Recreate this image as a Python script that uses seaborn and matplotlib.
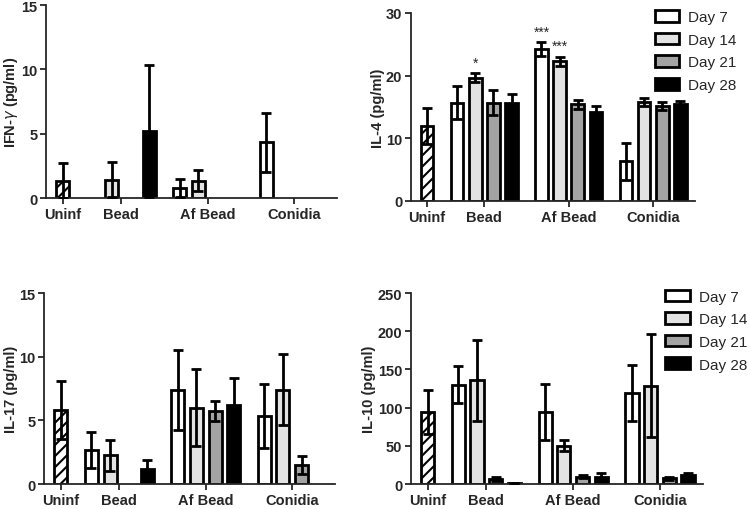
import numpy as np
import pandas as pd
import seaborn as sns
import matplotlib.pyplot as plt
from matplotlib.patches import Patch

nan = np.nan

groups = ['Bead', 'Af Bead', 'Conidia']
days = ['Day 7', 'Day 14', 'Day 21', 'Day 28']
day_colors = ['white', '#e3e3e3', '#a3a3a3', 'black']

# rows = days (7, 14, 21, 28), cols = groups (Bead, Af Bead, Conidia)
ifn_uninf = [1.35, 1.35]  # mean, error
ifn_mean = [[nan, 0.77, 4.33], [1.42, 1.34, nan], [nan, nan, nan], [5.2, nan, nan]]
ifn_err = [[nan, 0.72, 2.3], [1.36, 0.82, nan], [nan, nan, nan], [5.1, nan, nan]]

il4_uninf = [12.0, 2.9]
il4_mean = [[15.7, 24.2, 6.3], [19.7, 22.3, 15.8], [15.7, 15.4, 15.2], [15.7, 14.2, 15.4]]
il4_err = [[2.6, 1.1, 3.0], [0.7, 0.75, 0.7], [2.0, 0.75, 0.65], [1.3, 1.0, 0.6]]
il4_stars = [('Bead', 'Day 14', '*'), ('Af Bead', 'Day 7', '***'), ('Af Bead', 'Day 14', '***')]

il17_uninf = [5.8, 2.3]
il17_mean = [[2.7, 7.38, 5.33], [2.24, 6.0, 7.41], [nan, 5.74, 1.49], [1.16, 6.17, nan]]
il17_err = [[1.42, 3.17, 2.52], [1.18, 3.03, 2.8], [nan, 0.77, 0.7], [0.7, 2.13, nan]]

il10_uninf = [94.5, 28.8]
il10_mean = [[130.2, 94.5, 119.4], [135.7, 50.3, 128.9], [6.4, 9.5, 7.3], [1.3, 9.5, 11.6]]
il10_err = [[24.5, 37.0, 36.5], [53.0, 7.7, 68.0], [3.0, 2.0, 1.5], [0.5, 4.3, 3.4]]

gap = 1.65


def bar_pos(gi, di):
    return gap + gi * (3 + gap) + di


def build(uninf, mean, err):
    rows = [dict(pos=0.0, value=uninf[0], err=uninf[1], day='Uninf')]
    for di, d in enumerate(days):
        for gi, g in enumerate(groups):
            rows.append(dict(pos=bar_pos(gi, di), value=mean[di][gi],
                             err=err[di][gi], day=d))
    return pd.DataFrame(rows).dropna()


sns.set_style('ticks')
plt.rcParams['font.family'] = ['Liberation Sans', 'DejaVu Sans']
plt.rcParams['hatch.linewidth'] = 1.5

fig = plt.figure(figsize=(7.5, 5.1), dpi=100)

panels = [
    ('IFN-$\\gamma$ (pg/ml)', [0, 5, 10, 15], ifn_uninf, ifn_mean, ifn_err, [],
     [0.0613, 0.6098, 0.388, 0.3784]),
    ('IL-4 (pg/ml)', [0, 10, 20, 30], il4_uninf, il4_mean, il4_err, il4_stars,
     [0.5476, 0.604, 0.379, 0.3686]),
    ('IL-17 (pg/ml)', [0, 5, 10, 15], il17_uninf, il17_mean, il17_err, [],
     [0.0587, 0.049, 0.388, 0.3745]),
    ('IL-10 (pg/ml)', [0, 50, 100, 150, 200, 250], il10_uninf, il10_mean, il10_err, [],
     [0.5476, 0.049, 0.3897, 0.3745]),
]

palette = dict(zip(['Uninf'] + days, ['white'] + day_colors))

for ylabel, yticks, uninf, mean, err, stars, rect in panels:
    ax = fig.add_axes(rect)
    df = build(uninf, mean, err)
    sns.barplot(data=df, x='pos', y='value', hue='day', hue_order=['Uninf'] + days,
                palette=palette, native_scale=True, dodge=False, width=0.7,
                edgecolor='black', linewidth=2, errorbar=None, legend=False, ax=ax)
    for p in ax.patches:
        if abs(p.get_x() + p.get_width() / 2) < 1e-6:
            p.set_hatch('///')
    ax.errorbar(df['pos'], df['value'], yerr=df['err'], fmt='none', ecolor='black',
                elinewidth=2, capsize=3.5, capthick=2, zorder=4)
    for g, d, s in stars:
        gi, di = groups.index(g), days.index(d)
        top = mean[di][gi] + err[di][gi]
        ax.text(bar_pos(gi, di), top + yticks[-1] * 0.02, s, ha='center', va='bottom',
                fontsize=10)

    centers = [0] + [bar_pos(gi, 1.5) for gi in range(len(groups))]
    ax.set_xticks(centers, ['Uninf'] + groups)
    ax.set_xlim(-0.9, 14.75)
    ax.set_ylim(0, yticks[-1])
    ax.set_yticks(yticks)
    ax.set_xlabel('')
    ax.set_ylabel(ylabel, fontsize=10.5, fontweight='bold', labelpad=1)
    for lab in ax.get_xticklabels() + ax.get_yticklabels():
        lab.set_fontweight('bold')
        lab.set_fontsize(10.5)
    ax.tick_params(axis='x', direction='out', length=4, width=1.3, pad=2.5)
    ax.tick_params(axis='y', direction='out', length=4, width=1.3, pad=2)
    for sp in ax.spines.values():
        sp.set_linewidth(1.3)
    sns.despine(ax=ax)

handles = [Patch(facecolor=c, edgecolor='black', linewidth=2, label=d)
           for d, c in zip(days, day_colors)]
for anchor in [(0.873, 0.978), (0.887, 0.43)]:
    fig.legend(handles=handles, loc='upper left', bbox_to_anchor=anchor, frameon=False,
               fontsize=11, handlelength=1.6, handleheight=0.8, labelspacing=0.55,
               handletextpad=0.6, borderpad=0, borderaxespad=0)

fig.savefig('out.png', dpi=100)
